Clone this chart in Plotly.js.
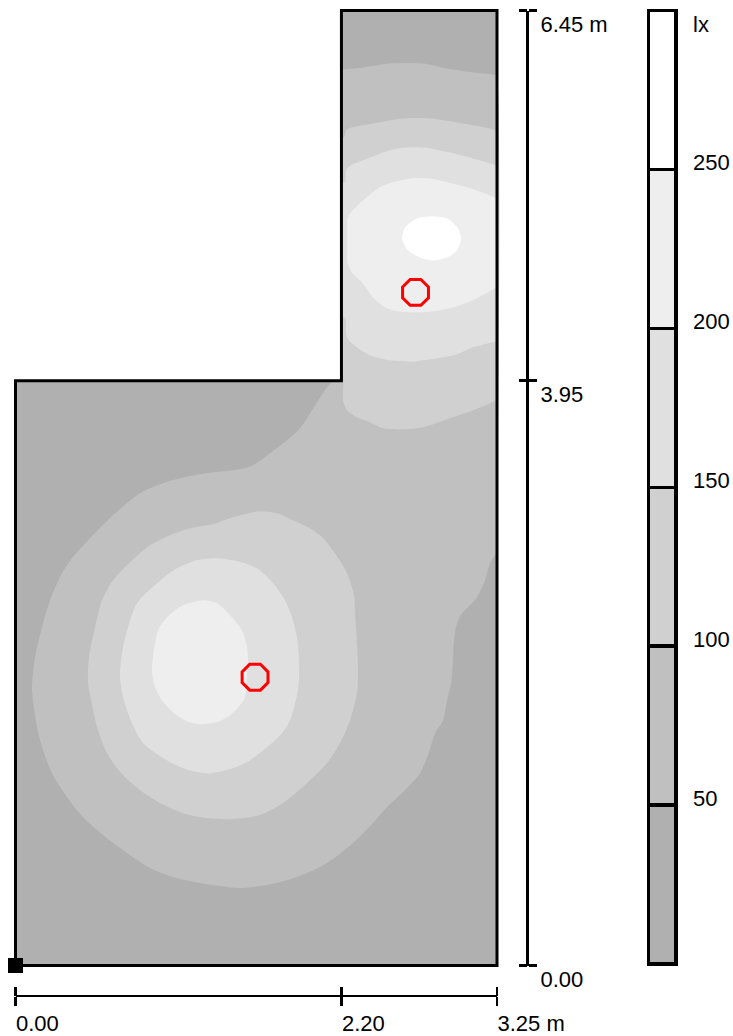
<!DOCTYPE html>
<html>
<head>
<meta charset="utf-8">
<script src="https://cdn.plot.ly/plotly-3.0.1.min.js"></script>
<style>html,body{margin:0;padding:0;background:#fff}#c{width:733px;height:1036px}</style>
</head>
<body>
<div id="c"></div>
<script>
// Room outline, metres
const roomX = [0, 3.25, 3.25, 2.2, 2.2, 0, 0];
const roomY = [0, 0, 6.45, 6.45, 3.95, 3.95, 0];

// Isolux regions, metres
const x50 = [2.2,2.346,2.528,2.751,2.913,3.088,3.24,3.25,3.25,3.25,3.243,3.203,3.169,3.115,3.068,3.014,2.98,2.96,2.953,2.94,2.913,2.886,2.832,2.784,2.73,2.616,2.508,2.413,2.278,2.103,1.9,1.698,1.515,1.245,1.063,0.908,0.753,0.591,0.456,0.348,0.253,0.186,0.145,0.118,0.111,0.132,0.179,0.233,0.314,0.381,0.503,0.658,0.84,0.955,1.11,1.293,1.515,1.603,1.718,1.833,1.92,2.022,2.135,2.19,2.2];
const y50 = [6.051,6.065,6.092,6.092,6.058,6.031,6.012,6.0,2.795,2.784,2.78,2.717,2.602,2.487,2.433,2.379,2.312,2.197,2.062,1.907,1.792,1.657,1.569,1.421,1.299,1.171,1.07,0.962,0.827,0.692,0.597,0.543,0.523,0.557,0.597,0.658,0.759,0.881,1.002,1.137,1.286,1.455,1.61,1.792,1.88,2.082,2.285,2.467,2.649,2.751,2.886,3.041,3.189,3.243,3.291,3.324,3.351,3.378,3.459,3.547,3.628,3.783,3.94,3.95,3.95];

const x100a = [2.2,2.217,2.238,2.413,2.616,2.798,3.021,3.24,3.25,3.25,3.25,3.24,3.088,2.933,2.751,2.616,2.481,2.393,2.305,2.238,2.211,2.211,2.2];
const y100a = [5.592,5.592,5.646,5.687,5.721,5.721,5.687,5.641,5.63,3.827,3.817,3.813,3.75,3.696,3.635,3.621,3.628,3.669,3.702,3.75,3.817,3.945,3.95];
const x100b = [1.65,1.765,1.873,1.988,2.076,2.157,2.238,2.285,2.292,2.305,2.312,2.305,2.258,2.19,2.103,1.968,1.806,1.65,1.468,1.293,1.131,0.975,0.84,0.726,0.624,0.557,0.51,0.489,0.496,0.537,0.584,0.658,0.773,0.908,1.043,1.178,1.333,1.468];
const y100b = [3.068,3.054,3.007,2.953,2.886,2.784,2.649,2.501,2.379,2.177,1.995,1.839,1.657,1.502,1.367,1.232,1.097,1.016,0.989,0.996,1.029,1.097,1.185,1.286,1.421,1.59,1.792,1.927,2.082,2.285,2.467,2.602,2.724,2.838,2.906,2.953,2.98,3.027];

const x150a = [2.2,2.224,2.238,2.393,2.575,2.751,2.933,3.088,3.24,3.25,3.25,3.25,3.24,3.088,2.98,2.845,2.683,2.528,2.393,2.305,2.238,2.224,2.2];
const y150a = [5.289,5.289,5.383,5.457,5.518,5.525,5.491,5.451,5.405,5.393,4.225,4.215,4.213,4.175,4.128,4.101,4.08,4.087,4.121,4.175,4.242,4.377,4.377];
const x150b = [1.333,1.468,1.63,1.738,1.819,1.866,1.9,1.914,1.907,1.853,1.799,1.698,1.583,1.468,1.293,1.131,0.996,0.861,0.786,0.732,0.705,0.719,0.759,0.82,0.955,1.09,1.225];
const y150b = [2.751,2.737,2.683,2.582,2.467,2.352,2.217,2.042,1.86,1.657,1.569,1.475,1.387,1.333,1.299,1.333,1.401,1.502,1.637,1.792,1.947,2.109,2.285,2.447,2.582,2.683,2.737];

const x200a = [2.238,2.258,2.346,2.481,2.663,2.798,2.953,3.115,3.24,3.25,3.25,3.25,3.24,3.115,2.98,2.818,2.663,2.508,2.413,2.346,2.271,2.238];
const y200a = [5.032,5.079,5.167,5.268,5.316,5.316,5.282,5.235,5.184,5.171,4.59,4.58,4.575,4.506,4.452,4.418,4.411,4.438,4.512,4.607,4.681,4.749];
const x200b = [1.266,1.36,1.448,1.529,1.563,1.569,1.563,1.549,1.515,1.448,1.36,1.245,1.158,1.063,0.989,0.942,0.921,0.935,0.962,1.023,1.131];
const y200b = [2.467,2.447,2.366,2.265,2.15,2.042,1.974,1.812,1.758,1.691,1.644,1.63,1.65,1.711,1.792,1.88,1.995,2.13,2.265,2.352,2.433];

const x250 = [2.798,2.913,2.987,3.007,2.98,2.913,2.818,2.73,2.649,2.609,2.629,2.71];
const y250 = [5.059,5.046,4.978,4.911,4.83,4.782,4.762,4.782,4.83,4.911,4.985,5.046];

// Luminaires
const lampX = [2.7, 1.617];
const lampY = [4.546, 1.947];
const originX = [0];
const originY = [0];

// Dimension scales
const xTicks = [0, 2.2, 3.25];
const xLabels = ['0.00', '2.20', '3.25 m'];
const yTicks = [0, 3.95, 6.45];
const yLabels = ['0.00', '3.95', '6.45 m'];

// Lux scale
const luxBands = [50, 50, 50, 50, 50, 50];
const luxColors = ['#b0b0b0', '#c0c0c0', '#d0d0d0', '#e0e0e0', '#eeeeee', '#ffffff'];
const luxTicks = [50, 100, 150, 200, 250];
const luxUnit = 'lx';

const W = 733, H = 1036;
const FONT = {family: '"Liberation Sans", Arial, sans-serif', size: 22, color: '#000'};
const fx = p => p / W;
const fy = p => (H - p) / H;

// Plan frame in page pixels, and the room left around it so wall strokes are not clipped
const PLAN = {l: 15.5, r: 497, t: 10.5, b: 965.5};
const PAD = 10;
const padX = PAD * 3.25 / (PLAN.r - PLAN.l);
const padY = PAD * 6.45 / (PLAN.b - PLAN.t);
const LUX = {l: 648.5, r: 676, t: 10.5, b: 964};
const PADL = 4;
const padLx = PADL / (LUX.r - LUX.l);
const padLy = PADL * 300 / (LUX.b - LUX.t);

function region(x, y, color, closed) {
  return {x: closed ? x.concat(x[0]) : x, y: closed ? y.concat(y[0]) : y,
          type: 'scatter', mode: 'lines', fill: 'toself', fillcolor: color,
          line: {width: 0, color, shape: 'spline', smoothing: 0.8, simplify: false},
          hoverinfo: 'skip', showlegend: false};
}

const traces = [
  {x: roomX, y: roomY, type: 'scatter', mode: 'lines', fill: 'toself', fillcolor: luxColors[0],
   line: {width: 0}, hoverinfo: 'skip', showlegend: false},
  region(x50, y50, luxColors[1], false),
  region(x100a, y100a, luxColors[2], false),
  region(x100b, y100b, luxColors[2], true),
  region(x150a, y150a, luxColors[3], false),
  region(x150b, y150b, luxColors[3], true),
  region(x200a, y200a, luxColors[4], false),
  region(x200b, y200b, luxColors[4], true),
  region(x250, y250, luxColors[5], true),
  {x: roomX, y: roomY, type: 'scatter', mode: 'lines', line: {color: '#000', width: 3},
   hoverinfo: 'skip', showlegend: false},
  {x: lampX, y: lampY, type: 'scatter', mode: 'markers',
   marker: {symbol: 'octagon-open', size: 28, color: '#ff0000', line: {color: '#ff0000', width: 3}},
   hoverinfo: 'skip', showlegend: false},
  {x: originX, y: originY, type: 'scatter', mode: 'markers',
   marker: {symbol: 'square', size: 15, color: '#000'},
   hoverinfo: 'skip', showlegend: false},
  {x: xTicks, y: yTicks, xaxis: 'x3', yaxis: 'y3', type: 'scatter', mode: 'none',
   hoverinfo: 'skip', showlegend: false}
];
luxBands.forEach((v, i) => traces.push({
  x: [0.5], y: [v], width: [1], type: 'bar', xaxis: 'x2', yaxis: 'y2',
  marker: {color: luxColors[i], line: {color: '#000', width: 3.4}},
  hoverinfo: 'skip', showlegend: false
}));

const tickStyle = {
  showgrid: false, zeroline: false, ticklen: 8.5, tickwidth: 2.5, tickcolor: '#000',
  tickmode: 'array', tickfont: FONT, anchor: 'free'
};

const layout = {
  width: W, height: H, margin: {l: 0, r: 0, t: 0, b: 0},
  paper_bgcolor: '#fff', plot_bgcolor: 'rgba(0,0,0,0)',
  barmode: 'stack', showlegend: false, font: FONT,
  // padded plan axes: carry the inward half of each scale tick
  xaxis: Object.assign({}, tickStyle, {domain: [fx(PLAN.l - PAD), fx(PLAN.r + PAD)], range: [-padX, 3.25 + padX],
    position: fy(995.5), side: 'bottom', ticks: 'inside', tickvals: xTicks, showticklabels: false, showline: false}),
  yaxis: Object.assign({}, tickStyle, {domain: [fy(PLAN.b + PAD), fy(PLAN.t - PAD)], range: [-padY, 6.45 + padY],
    position: fx(527), side: 'right', ticks: 'inside', tickvals: yTicks, showticklabels: false, showline: false}),
  // exact scale axes: line, outward half of ticks, labels
  xaxis3: Object.assign({}, tickStyle, {domain: [fx(PLAN.l), fx(PLAN.r)], range: [0, 3.25],
    position: fy(995.5), side: 'bottom', ticks: 'outside', tickvals: xTicks, ticktext: xLabels,
    showline: true, linecolor: '#000', linewidth: 2.5,
    ticklabelposition: 'outside right', ticklabelstandoff: 8, ticklabelshift: -2}),
  yaxis3: Object.assign({}, tickStyle, {domain: [fy(PLAN.b), fy(PLAN.t)], range: [0, 6.45],
    position: fx(527), side: 'right', ticks: 'outside', tickvals: yTicks, ticktext: yLabels,
    showline: true, linecolor: '#000', linewidth: 2.5,
    ticklabelstandoff: -1, ticklabelshift: 14}),
  xaxis2: {domain: [fx(LUX.l - PADL), fx(LUX.r + PADL)], range: [-padLx, 1 + padLx], anchor: 'y2', visible: false, fixedrange: true},
  yaxis2: {domain: [fy(LUX.b + PADL), fy(LUX.t - PADL)], range: [-padLy, 300 + padLy], anchor: 'x2', side: 'right',
    showgrid: false, zeroline: false, showline: false, ticks: '', tickmode: 'array',
    tickvals: luxTicks, ticktext: luxTicks.map(String), tickfont: FONT,
    ticklabelstandoff: 12, ticklabelshift: -7},
  annotations: [{text: luxUnit, xref: 'x2', yref: 'y2', x: 1, y: 300, xanchor: 'left', yanchor: 'top',
    xshift: 16, yshift: -1, showarrow: false, font: FONT, borderpad: 0}]
};
Plotly.newPlot('c', traces, layout, {displayModeBar: false, staticPlot: true});
</script>
</body>
</html>
